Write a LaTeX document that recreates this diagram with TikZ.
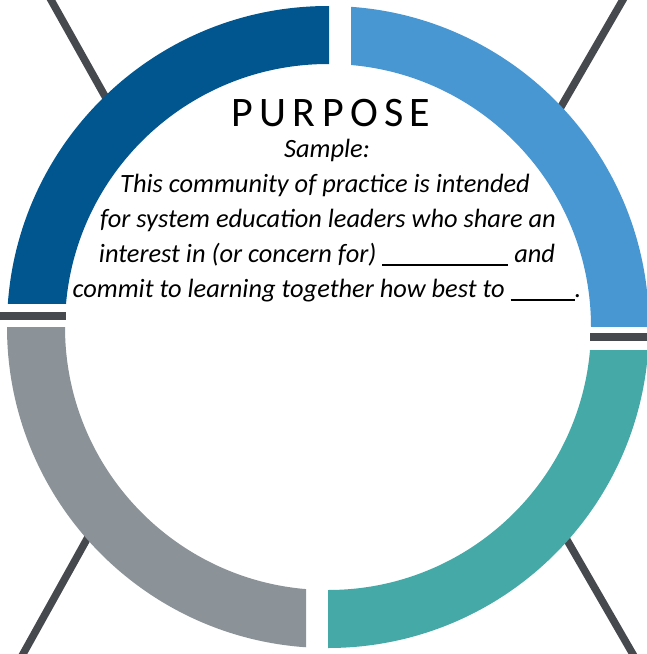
\documentclass[tikz,border=0pt]{standalone}
\usepackage{fontspec}
\setmainfont{Carlito}
\newfontfamily\titlefont[LetterSpace=15]{Carlito}
\usepackage{tikz}

\definecolor{ringdark}{HTML}{02568F}
\definecolor{ringlight}{HTML}{4896D2}
\definecolor{ringteal}{HTML}{45A9A7}
\definecolor{ringgray}{HTML}{8B9298}
\definecolor{spoke}{HTML}{46494E}

\newcommand{\blankline}[1]{\rule[-3.5pt]{#1}{1.4pt}}

\tikzset{
  spokeline/.style={draw=spoke,line width=7.5pt},
  gapbar/.style={draw=spoke,line width=8pt},
  titletext/.style={anchor=base,inner sep=0pt,font=\titlefont\fontsize{42}{42}\selectfont},
  bodytext/.style={anchor=base,inner sep=0pt,font=\fontsize{26.4}{35}\selectfont\itshape}
}

\begin{document}
\begin{tikzpicture}[x=1pt,y=-1pt]
  \useasboundingbox (0,0) rectangle (646,654);
  \coordinate (c) at (328,327);

  % spokes behind the ring
  \draw[spokeline] (46,-9) -- (120,123);
  \draw[spokeline] (628,-9) -- (547,131);
  \draw[spokeline] (18,663) -- (102,512);
  \draw[spokeline] (638,663) -- (552,514);

  % ring quarters
  \begin{scope}
    \clip (-10,-10) rectangle (329,303);
    \fill[ringdark,even odd rule] (c) circle[radius=321pt] (c) circle[radius=263pt];
  \end{scope}
  \begin{scope}
    \clip (351,-10) rectangle (660,326);
    \fill[ringlight,even odd rule] (c) circle[radius=321pt] (c) circle[radius=263pt];
  \end{scope}
  \begin{scope}
    \clip (328,350) rectangle (660,664);
    \fill[ringteal,even odd rule] (c) circle[radius=321pt] (c) circle[radius=263pt];
  \end{scope}
  \begin{scope}
    \clip (-10,327) rectangle (306,664);
    \fill[ringgray,even odd rule] (c) circle[radius=321pt] (c) circle[radius=263pt];
  \end{scope}

  % bars in the side gaps
  \coordinate (lbarA) at (-5,316);
  \coordinate (lbarB) at (66,316);
  \coordinate (rbarA) at (590,337);
  \coordinate (rbarB) at (651,337);
  \draw[gapbar] (lbarA) -- (lbarB);
  \draw[gapbar] (rbarA) -- (rbarB);

  % text
  \node[titletext] (purpose) at (331,126) {PURPOSE};
  \node[bodytext] (sample) at (327,157) {Sample:};
  \node[bodytext] (line1) at (325,192) {This community of practice is intended};
  \node[bodytext] (line2) at (328,227) {for system education leaders who share an};
  \node[bodytext] (line3) at (327,262) {interest in (or concern for) \blankline{126pt} and};
  \node[bodytext] (line4) at (327,297) {commit to learning together how best to \blankline{64pt}.};
\end{tikzpicture}
\end{document}
